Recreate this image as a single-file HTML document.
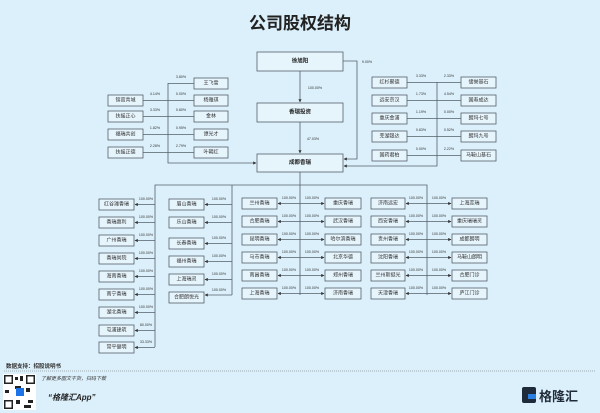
<!DOCTYPE html>
<html><head><meta charset="utf-8"><style>
html,body{margin:0;padding:0;background:#dcf0fb;}
svg{display:block;font-family:"Liberation Sans","Noto Sans CJK SC",sans-serif;}
.b{fill:#e6f4fc;stroke:#55606a;stroke-width:0.8}
.t{font-size:5px;fill:#333;text-anchor:middle;dominant-baseline:central}
.p{font-size:3.6px;fill:#333;text-anchor:middle}
.l{stroke:#55606a;stroke-width:0.8;fill:none}
.m{font-size:5.5px;font-weight:bold;fill:#222;text-anchor:middle;dominant-baseline:central}
</style></head><body>
<svg width="600" height="413" viewBox="0 0 600 413" xmlns="http://www.w3.org/2000/svg">
<defs><marker id="a" markerWidth="4" markerHeight="4" refX="3.5" refY="2" orient="auto"><path d="M0,0L4,2L0,4z" fill="#333"/></marker></defs>
<rect width="600" height="413" fill="#dcf0fb"/>
<text x="300" y="29" font-size="17" font-weight="bold" text-anchor="middle" fill="#222">公司股权结构</text>

<!-- main chain -->
<rect class="b" x="257" y="52" width="86" height="19"/><text class="m" x="300" y="61.5">徐旭阳</text>
<rect class="b" x="257" y="103" width="86" height="19"/><text class="m" x="300" y="112.5">香瑞投资</text>
<rect class="b" x="257" y="154" width="86" height="18"/><text class="m" x="300" y="163">成都香瑞</text>
<line class="l" x1="300" y1="71" x2="300" y2="102" marker-end="url(#a)"/><text class="p" x="315" y="89">100.00%</text>
<line class="l" x1="300" y1="122" x2="300" y2="153" marker-end="url(#a)"/><text class="p" x="313" y="140">47.03%</text>
<polyline class="l" points="343,61 357,61 357,159 344,159" marker-end="url(#a)"/><text class="p" x="367" y="63">9.00%</text>

<!-- left holders -->
<polyline class="l" points="168,83 168,163 256,163" marker-end="url(#a)"/>
<g>
<rect class="b" x="108" y="95" width="35" height="11"/><text class="t" x="125.5" y="100.5">锦官青城</text>
<rect class="b" x="108" y="111" width="35" height="11"/><text class="t" x="125.5" y="116.5">扶摇正心</text>
<rect class="b" x="108" y="129" width="35" height="11"/><text class="t" x="125.5" y="134.5">福瑞共创</text>
<rect class="b" x="108" y="147" width="35" height="11"/><text class="t" x="125.5" y="152.5">扶摇正德</text>
<line class="l" x1="143" y1="100.5" x2="194" y2="100.5"/><line class="l" x1="143" y1="116.5" x2="194" y2="116.5"/>
<line class="l" x1="143" y1="134.5" x2="194" y2="134.5"/><line class="l" x1="143" y1="152.5" x2="194" y2="152.5"/>
<line class="l" x1="168" y1="83.5" x2="194" y2="83.5"/>
<text class="p" x="155" y="95">4.14%</text><text class="p" x="155" y="111">3.33%</text><text class="p" x="155" y="129">1.82%</text><text class="p" x="155" y="147">2.28%</text>
<text class="p" x="181" y="78">3.80%</text><text class="p" x="181" y="95">0.00%</text><text class="p" x="181" y="111">0.80%</text><text class="p" x="181" y="129">0.95%</text><text class="p" x="181" y="147">2.79%</text>
<rect class="b" x="194" y="78" width="34" height="11"/><text class="t" x="211" y="83.5">王飞雪</text>
<rect class="b" x="194" y="95" width="34" height="11"/><text class="t" x="211" y="100.5">杨雅琪</text>
<rect class="b" x="194" y="111" width="34" height="11"/><text class="t" x="211" y="116.5">金林</text>
<rect class="b" x="194" y="129" width="34" height="11"/><text class="t" x="211" y="134.5">谭光才</text>
<rect class="b" x="194" y="147" width="34" height="11"/><text class="t" x="211" y="152.5">叶朝红</text>
</g>

<!-- right holders -->
<polyline class="l" points="437,82 437,166 344,166" marker-end="url(#a)"/>
<g>
<rect class="b" x="372" y="77" width="35" height="11"/><text class="t" x="389.5" y="82.5">红杉聚德</text>
<rect class="b" x="372" y="95" width="35" height="11"/><text class="t" x="389.5" y="100.5">远安京汉</text>
<rect class="b" x="372" y="113" width="35" height="11"/><text class="t" x="389.5" y="118.5">重庆金浦</text>
<rect class="b" x="372" y="131" width="35" height="11"/><text class="t" x="389.5" y="136.5">芜湖银达</text>
<rect class="b" x="372" y="150" width="35" height="11"/><text class="t" x="389.5" y="155.5">国药君柏</text>
<rect class="b" x="461" y="77" width="35" height="11"/><text class="t" x="478.5" y="82.5">储誉基石</text>
<rect class="b" x="461" y="95" width="35" height="11"/><text class="t" x="478.5" y="100.5">国寿成达</text>
<rect class="b" x="461" y="113" width="35" height="11"/><text class="t" x="478.5" y="118.5">朗玛七号</text>
<rect class="b" x="461" y="131" width="35" height="11"/><text class="t" x="478.5" y="136.5">朗玛九号</text>
<rect class="b" x="461" y="150" width="35" height="11"/><text class="t" x="478.5" y="155.5">马鞍山基石</text>
<line class="l" x1="407" y1="82.5" x2="461" y2="82.5"/><line class="l" x1="407" y1="100.5" x2="461" y2="100.5"/>
<line class="l" x1="407" y1="118.5" x2="461" y2="118.5"/><line class="l" x1="407" y1="136.5" x2="461" y2="136.5"/>
<line class="l" x1="407" y1="155.5" x2="461" y2="155.5"/>
<text class="p" x="421" y="77">3.33%</text><text class="p" x="421" y="95">1.73%</text><text class="p" x="421" y="113">1.19%</text><text class="p" x="421" y="131">0.83%</text><text class="p" x="421" y="150">0.00%</text>
<text class="p" x="449" y="77">2.33%</text><text class="p" x="449" y="95">4.54%</text><text class="p" x="449" y="113">0.00%</text><text class="p" x="449" y="131">0.52%</text><text class="p" x="449" y="150">2.22%</text>
</g>

<!-- subsidiaries bus -->
<line class="l" x1="300" y1="172" x2="300" y2="295"/>
<polyline class="l" points="155,347 155,185 427,185 427,295"/>
<line class="l" x1="232" y1="185" x2="232" y2="295"/>

<!-- column A -->
<g>
<rect class="b" x="99" y="199" width="35" height="11"/><text class="t" x="116.5" y="204.5">红谷滩香瑞</text>
<rect class="b" x="99" y="217" width="35" height="11"/><text class="t" x="116.5" y="222.5">香瑞惠利</text>
<rect class="b" x="99" y="235" width="35" height="11"/><text class="t" x="116.5" y="240.5">广州香瑞</text>
<rect class="b" x="99" y="253" width="35" height="11"/><text class="t" x="116.5" y="258.5">香瑞尚院</text>
<rect class="b" x="99" y="271" width="35" height="11"/><text class="t" x="116.5" y="276.5">海南香瑞</text>
<rect class="b" x="99" y="289" width="35" height="11"/><text class="t" x="116.5" y="294.5">南宁香瑞</text>
<rect class="b" x="99" y="307" width="35" height="11"/><text class="t" x="116.5" y="312.5">湖北香瑞</text>
<rect class="b" x="99" y="325" width="35" height="11"/><text class="t" x="116.5" y="330.5">屯浦建筑</text>
<rect class="b" x="99" y="342" width="35" height="11"/><text class="t" x="116.5" y="347.5">常平健明</text>
<line class="l" x1="155" y1="204.5" x2="135" y2="204.5" marker-end="url(#a)"/><line class="l" x1="155" y1="222.5" x2="135" y2="222.5" marker-end="url(#a)"/>
<line class="l" x1="155" y1="240.5" x2="135" y2="240.5" marker-end="url(#a)"/><line class="l" x1="155" y1="258.5" x2="135" y2="258.5" marker-end="url(#a)"/>
<line class="l" x1="155" y1="276.5" x2="135" y2="276.5" marker-end="url(#a)"/><line class="l" x1="155" y1="294.5" x2="135" y2="294.5" marker-end="url(#a)"/>
<line class="l" x1="155" y1="312.5" x2="135" y2="312.5" marker-end="url(#a)"/><line class="l" x1="155" y1="330.5" x2="135" y2="330.5" marker-end="url(#a)"/>
<line class="l" x1="155" y1="347.5" x2="135" y2="347.5" marker-end="url(#a)"/>
<text class="p" x="146" y="200">100.00%</text><text class="p" x="146" y="218">100.00%</text><text class="p" x="146" y="236">100.00%</text><text class="p" x="146" y="254">100.00%</text><text class="p" x="146" y="272">100.00%</text><text class="p" x="146" y="290">100.00%</text><text class="p" x="146" y="308">100.00%</text><text class="p" x="146" y="326">80.00%</text><text class="p" x="146" y="343">33.33%</text>
</g>

<!-- column B -->
<g>
<rect class="b" x="169" y="199" width="35" height="11"/><text class="t" x="186.5" y="204.5">眉山香瑞</text>
<rect class="b" x="169" y="217" width="35" height="11"/><text class="t" x="186.5" y="222.5">乐山香瑞</text>
<rect class="b" x="169" y="238" width="35" height="11"/><text class="t" x="186.5" y="243.5">长春香瑞</text>
<rect class="b" x="169" y="256" width="35" height="11"/><text class="t" x="186.5" y="261.5">福州香瑞</text>
<rect class="b" x="169" y="274" width="35" height="11"/><text class="t" x="186.5" y="279.5">上海瑞灵</text>
<rect class="b" x="169" y="292" width="35" height="11"/><text class="t" x="186.5" y="297.5">合肥朗悦光</text>
<line class="l" x1="232" y1="204.5" x2="205" y2="204.5" marker-end="url(#a)"/><line class="l" x1="232" y1="222.5" x2="205" y2="222.5" marker-end="url(#a)"/>
<line class="l" x1="232" y1="243.5" x2="205" y2="243.5" marker-end="url(#a)"/><line class="l" x1="232" y1="261.5" x2="205" y2="261.5" marker-end="url(#a)"/>
<line class="l" x1="232" y1="279.5" x2="205" y2="279.5" marker-end="url(#a)"/><line class="l" x1="232" y1="295" x2="205" y2="295" marker-end="url(#a)"/>
<text class="p" x="219" y="200">100.00%</text><text class="p" x="219" y="218">100.00%</text><text class="p" x="219" y="239">100.00%</text><text class="p" x="219" y="257">100.00%</text><text class="p" x="219" y="275">100.00%</text><text class="p" x="219" y="291">100.00%</text>
</g>

<!-- column C & D -->
<g>
<rect class="b" x="242" y="198" width="35" height="11"/><text class="t" x="259.5" y="203.5">兰州香瑞</text>
<rect class="b" x="242" y="216" width="35" height="11"/><text class="t" x="259.5" y="221.5">合肥香瑞</text>
<rect class="b" x="242" y="234" width="35" height="11"/><text class="t" x="259.5" y="239.5">昆明香瑞</text>
<rect class="b" x="242" y="252" width="35" height="11"/><text class="t" x="259.5" y="257.5">马市香瑞</text>
<rect class="b" x="242" y="270" width="35" height="11"/><text class="t" x="259.5" y="275.5">南昌香瑞</text>
<rect class="b" x="242" y="288" width="35" height="11"/><text class="t" x="259.5" y="293.5">上海香瑞</text>
<rect class="b" x="325" y="198" width="36" height="11"/><text class="t" x="343" y="203.5">重庆香瑞</text>
<rect class="b" x="325" y="216" width="36" height="11"/><text class="t" x="343" y="221.5">武汉香瑞</text>
<rect class="b" x="325" y="234" width="36" height="11"/><text class="t" x="343" y="239.5">哈尔滨香瑞</text>
<rect class="b" x="325" y="252" width="36" height="11"/><text class="t" x="343" y="257.5">北京华德</text>
<rect class="b" x="325" y="270" width="36" height="11"/><text class="t" x="343" y="275.5">郑州香瑞</text>
<rect class="b" x="325" y="288" width="36" height="11"/><text class="t" x="343" y="293.5">济南香瑞</text>
<line class="l" x1="300" y1="203.5" x2="278" y2="203.5" marker-end="url(#a)"/><line class="l" x1="300" y1="221.5" x2="278" y2="221.5" marker-end="url(#a)"/>
<line class="l" x1="300" y1="239.5" x2="278" y2="239.5" marker-end="url(#a)"/><line class="l" x1="300" y1="257.5" x2="278" y2="257.5" marker-end="url(#a)"/>
<line class="l" x1="300" y1="275.5" x2="278" y2="275.5" marker-end="url(#a)"/><line class="l" x1="300" y1="293.5" x2="278" y2="293.5" marker-end="url(#a)"/>
<line class="l" x1="300" y1="203.5" x2="324" y2="203.5" marker-end="url(#a)"/><line class="l" x1="300" y1="221.5" x2="324" y2="221.5" marker-end="url(#a)"/>
<line class="l" x1="300" y1="239.5" x2="324" y2="239.5" marker-end="url(#a)"/><line class="l" x1="300" y1="257.5" x2="324" y2="257.5" marker-end="url(#a)"/>
<line class="l" x1="300" y1="275.5" x2="324" y2="275.5" marker-end="url(#a)"/><line class="l" x1="300" y1="293.5" x2="324" y2="293.5" marker-end="url(#a)"/>
<text class="p" x="289" y="199">100.00%</text><text class="p" x="289" y="217">100.00%</text><text class="p" x="289" y="235">100.00%</text><text class="p" x="289" y="253">100.00%</text><text class="p" x="289" y="271">100.00%</text><text class="p" x="289" y="289">100.00%</text>
<text class="p" x="312" y="199">100.00%</text><text class="p" x="312" y="217">100.00%</text><text class="p" x="312" y="235">100.00%</text><text class="p" x="312" y="253">100.00%</text><text class="p" x="312" y="271">100.00%</text><text class="p" x="312" y="289">100.00%</text>
</g>

<!-- column E & F -->
<g>
<rect class="b" x="371" y="198" width="34" height="11"/><text class="t" x="388" y="203.5">济南远宏</text>
<rect class="b" x="371" y="216" width="34" height="11"/><text class="t" x="388" y="221.5">西安香瑞</text>
<rect class="b" x="371" y="234" width="34" height="11"/><text class="t" x="388" y="239.5">贵州香瑞</text>
<rect class="b" x="371" y="252" width="34" height="11"/><text class="t" x="388" y="257.5">沈阳香瑞</text>
<rect class="b" x="371" y="270" width="34" height="11"/><text class="t" x="388" y="275.5">兰州斯挺光</text>
<rect class="b" x="371" y="288" width="34" height="11"/><text class="t" x="388" y="293.5">天津香瑞</text>
<rect class="b" x="452" y="198" width="35" height="11"/><text class="t" x="469.5" y="203.5">上海蕊瑞</text>
<rect class="b" x="452" y="216" width="35" height="11"/><text class="t" x="469.5" y="221.5">重庆瑞瑞灵</text>
<rect class="b" x="452" y="234" width="35" height="11"/><text class="t" x="469.5" y="239.5">成都朗明</text>
<rect class="b" x="452" y="252" width="35" height="11"/><text class="t" x="469.5" y="257.5">马鞍山朗明</text>
<rect class="b" x="452" y="270" width="35" height="11"/><text class="t" x="469.5" y="275.5">合肥门诊</text>
<rect class="b" x="452" y="288" width="35" height="11"/><text class="t" x="469.5" y="293.5">庐江门诊</text>
<line class="l" x1="427" y1="203.5" x2="406" y2="203.5" marker-end="url(#a)"/><line class="l" x1="427" y1="221.5" x2="406" y2="221.5" marker-end="url(#a)"/>
<line class="l" x1="427" y1="239.5" x2="406" y2="239.5" marker-end="url(#a)"/><line class="l" x1="427" y1="257.5" x2="406" y2="257.5" marker-end="url(#a)"/>
<line class="l" x1="427" y1="275.5" x2="406" y2="275.5" marker-end="url(#a)"/><line class="l" x1="427" y1="293.5" x2="406" y2="293.5" marker-end="url(#a)"/>
<line class="l" x1="427" y1="203.5" x2="451" y2="203.5" marker-end="url(#a)"/><line class="l" x1="427" y1="221.5" x2="451" y2="221.5" marker-end="url(#a)"/>
<line class="l" x1="427" y1="239.5" x2="451" y2="239.5" marker-end="url(#a)"/><line class="l" x1="427" y1="257.5" x2="451" y2="257.5" marker-end="url(#a)"/>
<line class="l" x1="427" y1="275.5" x2="451" y2="275.5" marker-end="url(#a)"/><line class="l" x1="427" y1="293.5" x2="451" y2="293.5" marker-end="url(#a)"/>
<text class="p" x="416" y="199">100.00%</text><text class="p" x="416" y="217">100.00%</text><text class="p" x="416" y="235">100.00%</text><text class="p" x="416" y="253">100.00%</text><text class="p" x="416" y="271">100.00%</text><text class="p" x="416" y="289">100.00%</text>
<text class="p" x="439" y="199">100.00%</text><text class="p" x="439" y="217">100.00%</text><text class="p" x="439" y="235">100.00%</text><text class="p" x="439" y="253">100.00%</text><text class="p" x="439" y="271">100.00%</text><text class="p" x="439" y="289">100.00%</text>
</g>

<!-- footer -->
<text x="6" y="368" font-size="5.5" font-weight="bold" fill="#333">数据支持：招股说明书</text>
<line x1="4" y1="371" x2="596" y2="371" stroke="#666" stroke-width="0.6" stroke-dasharray="1,1"/>
<rect x="3" y="374" width="33" height="36" fill="#fff"/>
<g fill="#222">
<rect x="4" y="375" width="9" height="9"/><rect x="26" y="375" width="9" height="9"/><rect x="4" y="400" width="9" height="9"/>
<rect x="15" y="377" width="3" height="3"/><rect x="20" y="376" width="3" height="5"/><rect x="15" y="386" width="6" height="3"/><rect x="26" y="388" width="4" height="4"/>
<rect x="5" y="390" width="4" height="3"/><rect x="16" y="400" width="4" height="4"/><rect x="28" y="400" width="5" height="3"/><rect x="24" y="405" width="7" height="3"/>
</g>
<rect x="5.5" y="376.5" width="6" height="6" fill="#fff"/><rect x="27.5" y="376.5" width="6" height="6" fill="#fff"/><rect x="5.5" y="401.5" width="6" height="6" fill="#fff"/>
<rect x="16" y="388" width="8" height="8" fill="#1e73e8"/>
<text x="41" y="380" font-size="5" font-style="italic" fill="#333">了解更多图文干货，扫码下载</text>
<text x="48" y="400" font-size="8" font-style="italic" font-weight="bold" fill="#222">“格隆汇App”</text>
<rect x="522" y="387" width="14" height="16" rx="2" fill="#1f2a3a"/>
<rect x="528" y="394" width="8" height="5" fill="#2a7de1"/>
<text x="539" y="401" font-size="13" font-weight="bold" fill="#1f2a3a">格隆汇</text>
</svg>
</body></html>
